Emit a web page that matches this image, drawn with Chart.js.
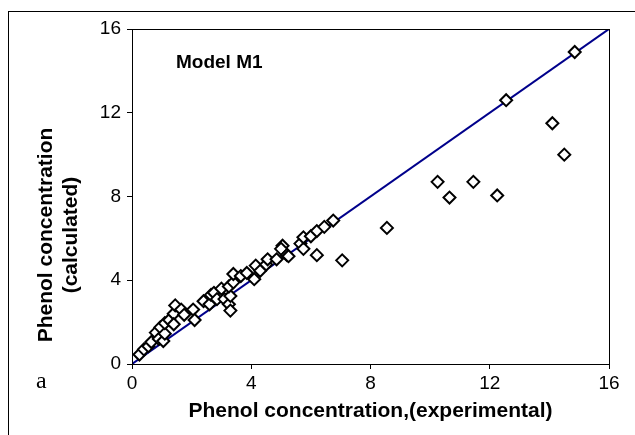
<!DOCTYPE html>
<html>
<head>
<meta charset="utf-8">
<script src="https://cdn.jsdelivr.net/npm/chart.js@4.4.1/dist/chart.umd.min.js"></script>
<style>
  html, body { margin: 0; padding: 0; background: #fff; }
  #wrap { position: relative; width: 635px; height: 435px; }
</style>
</head>
<body>
<div id="wrap"><canvas id="chart" width="635" height="435"></canvas></div>
<script>
"use strict";

const expX = [
  0.25, 0.4, 0.55, 0.65, 0.8, 0.9, 0.95, 1.05, 1.1, 1.1,
  1.25, 1.4, 1.45, 1.4, 1.65, 1.75, 2.05, 2.1, 2.4, 2.6,
  2.65, 2.75, 2.85, 3.0, 3.1, 3.25, 3.3, 3.3, 3.25, 3.4,
  3.4, 3.65, 3.85, 4.1, 4.15, 4.3, 4.5, 4.55, 4.85, 5.05,
  5.0, 5.2, 5.25, 5.65, 5.75, 5.75, 6.0, 6.2, 6.2, 6.45,
  6.75, 7.05, 8.55, 10.25, 10.65, 11.45, 12.25, 12.55, 14.1, 14.5,
  14.85
];
const calcY = [
  0.45, 0.7, 0.85, 1.05, 1.5, 1.2, 1.75, 1.1, 1.45, 1.95,
  2.1, 2.4, 2.8, 1.9, 2.6, 2.35, 2.6, 2.1, 3.0, 2.85,
  3.3, 3.4, 3.1, 3.6, 3.1, 2.85, 2.55, 3.25, 3.7, 3.9,
  4.3, 4.2, 4.35, 4.05, 4.7, 4.45, 4.75, 5.0, 5.0, 5.65,
  5.5, 5.2, 5.15, 5.75, 5.5, 6.05, 6.1, 6.35, 5.2, 6.55,
  6.85, 4.95, 6.5, 8.7, 7.95, 8.7, 8.05, 12.6, 11.5, 10.0,
  14.9
];
const lineX = [0, 16];
const lineY = [0, 16];
const axisTicks = [0, 4, 8, 12, 16];

const points = expX.map((x, i) => ({ x, y: calcY[i] }));
const diagonal = lineX.map((x, i) => ({ x, y: lineY[i] }));

const FONT = "'Liberation Sans', Arial, sans-serif";

// frame, plot box and free-floating texts
const decor = {
  id: "decor",
  beforeDraw(chart) {
    const ctx = chart.ctx;
    ctx.save();
    ctx.fillStyle = "#fff";
    ctx.fillRect(0, 0, chart.width, chart.height);
    ctx.strokeStyle = "#000";
    ctx.lineWidth = 1;
    ctx.strokeRect(8.5, 11.5, 700, 500);
    ctx.restore();
  },
  afterDraw(chart) {
    const ctx = chart.ctx;
    const a = chart.chartArea;
    ctx.save();
    ctx.strokeStyle = "#000";
    ctx.lineWidth = 1;
    ctx.strokeRect(Math.round(a.left) + 0.5, Math.round(a.top) + 0.5,
      Math.round(a.right - a.left), Math.round(a.bottom - a.top));

    ctx.fillStyle = "#000";
    ctx.textBaseline = "middle";
    ctx.textAlign = "left";
    ctx.font = "bold 19px " + FONT;
    ctx.fillText("Model M1", 176, 63);

    ctx.font = "24px 'Liberation Serif', 'Times New Roman', serif";
    ctx.fillText("a", 36, 382);

    ctx.textAlign = "center";
    ctx.font = "bold 21px " + FONT;
    ctx.fillText("Phenol concentration,(experimental)", (a.left + a.right) / 2, 411);

    ctx.translate(0, 235);
    ctx.rotate(-Math.PI / 2);
    ctx.fillText("Phenol concentration", 0, 46);
    ctx.fillText("(calculated)", 0, 71);
    ctx.restore();
  },
};

const tickFont = { family: FONT, size: 19 };

new Chart(document.getElementById("chart"), {
  type: "scatter",
  data: {
    datasets: [
      {
        type: "line",
        data: diagonal,
        borderColor: "#00008b",
        borderWidth: 2,
        pointRadius: 0,
        order: 2,
      },
      {
        data: points,
        pointStyle: "rectRot",
        pointRadius: 6,
        pointBorderWidth: 2,
        pointBorderColor: "#000",
        pointBackgroundColor: "#fff",
        order: 1,
      },
    ],
  },
  options: {
    responsive: false,
    animation: false,
    events: [],
    layout: { padding: { left: 0, top: 29, right: 26, bottom: 0 } },
    plugins: { legend: { display: false }, tooltip: { enabled: false } },
    scales: {
      x: {
        type: "linear",
        min: 0,
        max: 16,
        afterBuildTicks: (s) => { s.ticks = axisTicks.map((v) => ({ value: v })); },
        afterFit: (s) => { s.height = 71; },
        border: { display: true, color: "#000", width: 1 },
        grid: { drawOnChartArea: false, drawTicks: true, tickLength: 5, color: "#000" },
        ticks: { color: "#000", font: tickFont, padding: 3, maxRotation: 0 },
      },
      y: {
        type: "linear",
        min: 0,
        max: 16,
        afterBuildTicks: (s) => { s.ticks = axisTicks.map((v) => ({ value: v })); },
        afterFit: (s) => { s.width = 132; },
        border: { display: true, color: "#000", width: 1 },
        grid: { drawOnChartArea: false, drawTicks: true, tickLength: 5, color: "#000" },
        ticks: { color: "#000", font: tickFont, padding: 6 },
      },
    },
  },
  plugins: [decor],
});
</script>
</body>
</html>
